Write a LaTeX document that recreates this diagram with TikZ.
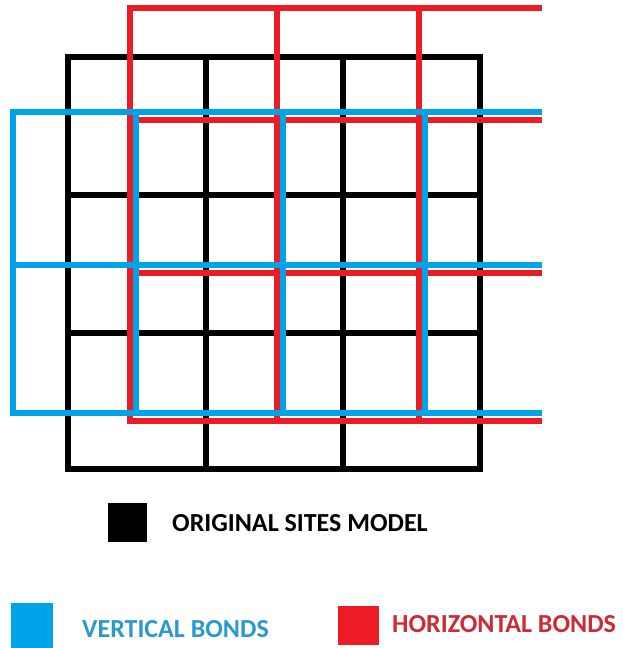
\documentclass[tikz,border=0pt]{standalone}
\usepackage{fontspec}
\setmainfont{Carlito}
\usetikzlibrary{positioning}
\definecolor{bondblue}{HTML}{00A2E8}
\definecolor{bondred}{HTML}{ED1C24}
\definecolor{labelblue}{HTML}{2B98D0}
\definecolor{labelred}{HTML}{CC2A36}

\begin{document}
\begin{tikzpicture}[x=1pt, y=-1pt,
        site/.style  = {line width=6pt, line cap=rect, black},
        vbond/.style = {line width=6pt, line cap=rect, bondblue},
        hbond/.style = {line width=6pt, line cap=rect, bondred},
        key/.style   = {anchor=north west, inner sep=0pt, outer sep=0pt},
        lbl/.style   = {anchor=base west, inner sep=0pt, font=\bfseries\fontsize{26}{30}\selectfont}
    ]
    \useasboundingbox (0,0) rectangle (622,648);
    % original sites
    \foreach \x in {68,206,343,480} \draw[site] (\x,57) -- (\x,469);
    \foreach \y in {57,195,333,469} \draw[site] (68,\y) -- (480,\y);
    % horizontal bonds
    \foreach \x in {130,277,419} \draw[hbond] (\x,8) -- (\x,421);
    \foreach \y in {8,120,273,421} \draw[hbond] (130,\y) -- (539,\y);
    % vertical bonds
    \foreach \x in {13,136,283,425} \draw[vbond] (\x,112) -- (\x,413);
    \foreach \y in {112,265,413} \draw[vbond] (13,\y) -- (539,\y);
    % legend
    \node[key, fill=black, minimum width=39pt, minimum height=39pt] (sitekey) at (108,503) {};
    \node[lbl, text=black] (sitelabel) at (172,531) {ORIGINAL SITES MODEL};
    \node[key, fill=bondblue, minimum width=42pt, minimum height=48pt] (vkey) at (11,603) {};
    \node[lbl, text=labelblue] (vlabel) at (82,637) {VERTICAL BONDS};
    \node[key, fill=bondred, minimum width=41pt, minimum height=39pt] (hkey) at (338,606) {};
    \node[lbl, text=labelred] (hlabel) at (392,632) {HORIZONTAL BONDS};
\end{tikzpicture}
\end{document}
